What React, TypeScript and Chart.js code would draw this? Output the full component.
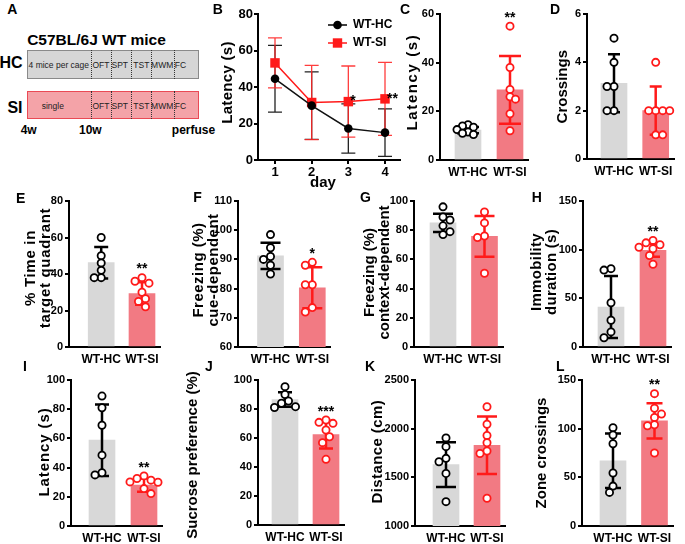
import React, { useEffect, useRef } from "react";
import { Chart, registerables } from "chart.js";

Chart.register(...registerables);

const FONT = 'Arial, "Liberation Sans", Helvetica, sans-serif';
const GRAY = "#d8d8d8";
const PINK = "#f27a83";
const RED = "#ff1a1a";
const BLACK = "#000000";

const groups = ["WT-HC", "WT-SI"];

// ---- Panel B: latency per day ----
const bDays = [1, 2, 3, 4];
const bSeries = ["WT-HC", "WT-SI"];
const bHCMean = [44.5, 29.8, 17.3, 15.0];
const bHCSD = [18.3, 18.5, 13.5, 13.0];
const bSIMean = [53.2, 31.5, 32.0, 33.5];
const bSISD = [13.7, 20.3, 19.5, 20.0];
const bSig = ["", "", "*", "**"];
const bYTicks = [0, 20, 40, 60, 80];

// ---- Panel C ----
const cYTicks = [0, 20, 40, 60];
const cMean = [12.3, 28.8];
const cSD = [1.3, 13.9];
const cHC = [14.5, 14, 13.5, 12.5, 11.5, 11, 10.5];
const cSI = [55, 38, 29, 26, 25, 19, 12];
const cSig = "**";

// ---- Panel D ----
const dYTicks = [0, 2, 4, 6];
const dMean = [3.13, 2.0];
const dSD = [1.2, 1.0];
const dHC = [5, 4, 3, 3, 2, 2];
const dSI = [4, 2, 2, 2, 2, 1, 1];
const dSig = "";

// ---- Panel E ----
const eYTicks = [0, 20, 40, 60, 80];
const eMean = [46.2, 29.3];
const eSD = [8.6, 6.2];
const eHC = [60, 50, 46, 42, 38, 38];
const eSI = [38, 36, 35, 30, 26.5, 25, 22];
const eSig = "**";

// ---- Panel F ----
const fYTicks = [60, 70, 80, 90, 100, 110];
const fMean = [91.2, 80.3];
const fSD = [4.5, 7.0];
const fHC = [98.5, 94, 91, 90, 88, 85];
const fSI = [89, 88, 81.3, 81.3, 73.5, 72];
const fSig = "*";

// ---- Panel G ----
const gYTicks = [0, 20, 40, 60, 80, 100];
const gMean = [85, 75.8];
const gSD = [6.2, 14];
const gHC = [96, 89, 87, 83, 79, 77];
const gSI = [92.5, 85, 76, 75, 50.5];
const gSig = "";

// ---- Panel H ----
const hYTicks = [0, 50, 100, 150];
const hMean = [41.1, 99.4];
const hSD = [31.8, 6.6];
const hHC = [80.5, 79, 45.5, 27.5, 15.5, 9.5];
const hSI = [109.5, 107, 105, 102.5, 101, 94, 85];
const hSig = "**";

// ---- Panel I ----
const iYTicks = [0, 20, 40, 60, 80, 100];
const iMean = [58.8, 28];
const iSD = [24.5, 4.6];
const iHC = [89, 81, 69, 48.5, 36.5, 35];
const iSI = [34.3, 32.5, 31.4, 30.2, 30, 25.6, 22.2];
const iSig = "**";

// ---- Panel J ----
const jYTicks = [0, 20, 40, 60, 80, 100];
const jMean = [86.5, 62.3];
const jSD = [5.0, 9.6];
const jHC = [95.4, 90, 85.5, 84, 81.6, 81];
const jSI = [72.4, 70.8, 70.1, 65.5, 60.9, 56.8, 45.3];
const jSig = "***";

// ---- Panel K ----
const kYTicks = [1000, 1500, 2000, 2500];
const kMean = [1630, 1830];
const kSD = [230, 296];
const kHC = [1905, 1815, 1695, 1660, 1540, 1250];
const kSI = [2225, 2045, 1930, 1855, 1770, 1745, 1285];
const kSig = "";

// ---- Panel L ----
const lYTicks = [0, 50, 100, 150];
const lMean = [67, 108];
const lSD = [28, 18];
const lHC = [101, 93.5, 84.5, 54.5, 41, 34.5];
const lSI = [136, 121, 115, 111.5, 104, 103, 75];
const lSig = "**";

type BarSpec = {
  key: string;
  axisX: number; hcX: number; siX: number; topY: number; botY: number;
  yTicks: number[]; mean: number[]; sd: number[]; hc: number[]; si: number[]; sig: string;
  title: string[]; titleX: number; titleY: number; ls: number; cap: number; gapPx?: number;
};

const specs: BarSpec[] = [
  { key: "C", axisX: 440, hcX: 468, siX: 510, topY: 14, botY: 160, yTicks: cYTicks, mean: cMean, sd: cSD, hc: cHC, si: cSI, sig: cSig, title: ["Latency (s)"], titleX: 413, titleY: 82, ls: 1.6, cap: 11, gapPx: 5.5 },
  { key: "D", axisX: 587, hcX: 614, siX: 655.7, topY: 14, botY: 159, yTicks: dYTicks, mean: dMean, sd: dSD, hc: dHC, si: dSI, sig: dSig, title: ["Crossings"], titleX: 563, titleY: 86.7, ls: 0, cap: 6 },
  { key: "E", axisX: 69, hcX: 101.2, siX: 142, topY: 201, botY: 347, yTicks: eYTicks, mean: eMean, sd: eSD, hc: eHC, si: eSI, sig: eSig, title: ["% Time in", "target quadrant"], titleX: 38.8, titleY: 268, ls: 0.7, cap: 7 },
  { key: "F", axisX: 238, hcX: 270.5, siX: 312.3, topY: 201, botY: 347, yTicks: fYTicks, mean: fMean, sd: fSD, hc: fHC, si: fSI, sig: fSig, title: ["Freezing (%)", "cue-dependent"], titleX: 206.7, titleY: 270, ls: 0.5, cap: 10 },
  { key: "G", axisX: 414, hcX: 443, siX: 484.5, topY: 201, botY: 347, yTicks: gYTicks, mean: gMean, sd: gSD, hc: gHC, si: gSI, sig: gSig, title: ["Freezing (%)", "context-dependent"], titleX: 377.5, titleY: 272.5, ls: 0, cap: 10 },
  { key: "H", axisX: 583, hcX: 611, siX: 653, topY: 201, botY: 347, yTicks: hYTicks, mean: hMean, sd: hSD, hc: hHC, si: hSI, sig: hSig, title: ["Immobility", "duration (s)"], titleX: 544.2, titleY: 272, ls: 0.3, cap: 7 },
  { key: "I", axisX: 71, hcX: 102, siX: 144, topY: 380, botY: 526, yTicks: iYTicks, mean: iMean, sd: iSD, hc: iHC, si: iSI, sig: iSig, title: ["Latency (s)"], titleX: 45, titleY: 452, ls: 0.9, cap: 7 },
  { key: "J", axisX: 258, hcX: 285, siX: 326, topY: 380, botY: 525, yTicks: jYTicks, mean: jMean, sd: jSD, hc: jHC, si: jSI, sig: jSig, title: ["Sucrose preference (%)"], titleX: 193.3, titleY: 455, ls: 0, cap: 7 },
  { key: "K", axisX: 415, hcX: 446, siX: 487, topY: 380, botY: 526, yTicks: kYTicks, mean: kMean, sd: kSD, hc: kHC, si: kSI, sig: kSig, title: ["Distance (cm)"], titleX: 378.3, titleY: 451.7, ls: 0.4, cap: 10 },
  { key: "L", axisX: 582, hcX: 613, siX: 654.5, topY: 380, botY: 526, yTicks: lYTicks, mean: lMean, sd: lSD, hc: lHC, si: lSI, sig: lSig, title: ["Zone crossings"], titleX: 541.7, titleY: 453, ls: 0, cap: 8 },
];

const PAD_L = 80, PAD_T = 16, PAD_R = 10, XH = 26;

// deterministic beeswarm: horizontal offsets (px) that keep markers from overlapping
function swarm(vals: number[], pxPerVal: number, d = 7): number[] {
  const idx = vals.map((_, i) => i).sort((a, b) => vals[b] - vals[a]);
  const placed: [number, number][] = [];
  const out = new Array(vals.length).fill(0);
  const step = d / 2;
  for (const i of idx) {
    const py = vals[i] * pxPerVal;
    let chosen = 0;
    let found = false;
    for (let k = 0; k < 40 && !found; k++) {
      const sgn = placed.length % 2 === 0 ? 1 : -1;
      const cands = k === 0 ? [0] : [sgn * k * step, -sgn * k * step];
      for (const c of cands) {
        if (placed.every(([px, qy]) => (px - c) ** 2 + (qy - py) ** 2 >= d * d)) {
          chosen = c; found = true; break;
        }
      }
    }
    placed.push([chosen, py]);
    out[i] = chosen;
  }
  return out;
}

function drawTitle(ctx: CanvasRenderingContext2D, lines: string[], cx: number, cy: number, size: number, ls: number, gap = 15) {
  ctx.save();
  ctx.translate(cx, cy);
  ctx.rotate(-Math.PI / 2);
  ctx.font = `bold ${size}px ${FONT}`;
  ctx.fillStyle = "#000";
  ctx.textAlign = "center";
  ctx.textBaseline = "middle";
  (ctx as any).letterSpacing = `${ls}px`;
  lines.forEach((t, i) => ctx.fillText(t, 0, (i - (lines.length - 1) / 2) * gap));
  ctx.restore();
}

function drawStar(ctx: CanvasRenderingContext2D, text: string, x: number, centerY: number, align: CanvasTextAlign) {
  ctx.save();
  ctx.font = `bold 14px ${FONT}`;
  ctx.fillStyle = "#000";
  ctx.textAlign = align;
  ctx.textBaseline = "alphabetic";
  ctx.fillText(text, x, centerY + 7.8);
  ctx.restore();
}

function drawErr(ctx: CanvasRenderingContext2D, x: number, y1: number, y2: number, cap: number, color: string, w: number) {
  ctx.save();
  ctx.strokeStyle = color;
  ctx.lineWidth = w;
  ctx.beginPath();
  ctx.moveTo(x, y1); ctx.lineTo(x, y2);
  ctx.moveTo(x - cap, y1); ctx.lineTo(x + cap, y1);
  ctx.moveTo(x - cap, y2); ctx.lineTo(x + cap, y2);
  ctx.stroke();
  ctx.restore();
}

function useChart(ref: React.RefObject<HTMLCanvasElement>, make: () => any) {
  useEffect(() => {
    const chart = new Chart(ref.current as HTMLCanvasElement, make());
    return () => chart.destroy();
  }, []);
}

function BarPanel({ s }: { s: BarSpec }) {
  const ref = useRef<HTMLCanvasElement>(null);
  const right = Math.round(s.siX + 18);
  const left = s.axisX - PAD_L;
  const top = s.topY - PAD_T;
  const W = PAD_L + (right - s.axisX) + PAD_R;
  const H = PAD_T + (s.botY - s.topY) + XH;
  const yMin = s.yTicks[0];
  const yMax = s.yTicks[s.yTicks.length - 1];
  const unit = s.siX - s.hcX;
  const xMin = -(s.hcX - s.axisX) / unit;
  const xMax = (right - s.hcX) / unit;
  const pxPerVal = (s.botY - s.topY) / (yMax - yMin);

  useChart(ref, () => {
    const hcOff = swarm(s.hc, pxPerVal, s.gapPx);
    const siOff = swarm(s.si, pxPerVal, s.gapPx);
    const hcPts = s.hc.map((v, i) => ({ x: 0 + hcOff[i] / unit, y: v }));
    const siPts = s.si.map((v, i) => ({ x: 1 + siOff[i] / unit, y: v }));
    const tickFont = { family: FONT, size: 11, weight: "bold" as const };
    const deco = {
      id: "deco" + s.key,
      afterDatasetDraw(chart: any, args: any) {
        if (args.index !== 0) return;
        const ctx = chart.ctx;
        const xs = chart.scales.x, ys = chart.scales.y;
        [0, 1].forEach((g) => {
          const cx = xs.getPixelForValue(g);
          drawErr(ctx, cx, ys.getPixelForValue(s.mean[g] + s.sd[g]), ys.getPixelForValue(s.mean[g] - s.sd[g]), s.cap, g ? RED : BLACK, 2.5);
        });
      },
      afterDraw(chart: any) {
        const ctx = chart.ctx;
        const xs = chart.scales.x, ys = chart.scales.y;
        if (s.sig) {
          const top = Math.max(...s.si, s.mean[1] + s.sd[1]);
          drawStar(ctx, s.sig, xs.getPixelForValue(1), ys.getPixelForValue(top) - 12, "center");
        }
        drawTitle(ctx, s.title, s.titleX - left, s.titleY - top, 15, s.ls);
      },
    };
    return {
      type: "scatter",
      data: {
        datasets: [
          { type: "bar", data: [{ x: 0, y: s.mean[0] }, { x: 1, y: s.mean[1] }], backgroundColor: [GRAY, PINK], borderWidth: 0, barThickness: 26, order: 2 },
          { type: "scatter", data: hcPts, pointRadius: 3.6, pointBorderWidth: 1.8, pointBorderColor: BLACK, pointBackgroundColor: "#fff", order: 1, clip: false },
          { type: "scatter", data: siPts, pointRadius: 3.6, pointBorderWidth: 1.8, pointBorderColor: RED, pointBackgroundColor: "#fff", order: 1, clip: false },
        ],
      },
      options: {
        responsive: false,
        maintainAspectRatio: false,
        animation: false,
        devicePixelRatio: 1,
        events: [],
        layout: { padding: { left: 0, top: PAD_T, right: PAD_R, bottom: 0 } },
        plugins: { legend: { display: false }, tooltip: { enabled: false } },
        scales: {
          x: {
            type: "linear", min: xMin, max: xMax, offset: false, z: 1,
            afterBuildTicks: (sc: any) => { sc.ticks = [{ value: 0 }, { value: 1 }]; },
            afterFit: (sc: any) => { sc.height = XH; },
            grid: { display: false, drawTicks: false },
            border: { display: true, color: "#000", width: 2 },
            ticks: { padding: 5, font: { family: FONT, size: 12, weight: "bold" }, color: "#000", maxRotation: 0, autoSkip: false, callback: (v: any) => groups[Math.round(Number(v))] },
          },
          y: {
            type: "linear", min: yMin, max: yMax, z: 1,
            afterBuildTicks: (sc: any) => { sc.ticks = s.yTicks.map((v) => ({ value: v })); },
            afterFit: (sc: any) => { sc.width = PAD_L; },
            grid: { display: true, drawOnChartArea: false, drawTicks: true, tickLength: 4, color: "#000", lineWidth: 2 },
            border: { display: true, color: "#000", width: 2 },
            ticks: { padding: 2, font: tickFont, color: "#000", autoSkip: false, callback: (v: any) => String(v) },
          },
        },
      },
      plugins: [deco],
    };
  });

  return <canvas ref={ref} width={W} height={H} style={{ position: "absolute", left, top, width: W, height: H }} />;
}

function PanelB() {
  const ref = useRef<HTMLCanvasElement>(null);
  const L = 196, T = 0, W = 216, H = 196;
  const axisX = 258, topY = 14, botY = 160, right = 400;
  const yW = axisX - L;
  const perDay = 36.67;
  const xMin = 1 - (275 - axisX) / perDay;
  const xMax = 4 + (right - 385) / perDay;
  useChart(ref, () => {
    const hc = bDays.map((d, i) => ({ x: d, y: bHCMean[i] }));
    const si = bDays.map((d, i) => ({ x: d, y: bSIMean[i] }));
    const tickFont = { family: FONT, size: 13, weight: "bold" as const };
    const deco = {
      id: "decoB",
      beforeDatasetsDraw(chart: any) {
        const ctx = chart.ctx;
        const xs = chart.scales.x, ys = chart.scales.y;
        bDays.forEach((d, i) => {
          const x = xs.getPixelForValue(d);
          drawErr(ctx, x, ys.getPixelForValue(bHCMean[i] + bHCSD[i]), ys.getPixelForValue(bHCMean[i] - bHCSD[i]), 7, "#222", 1.3);
          drawErr(ctx, x, ys.getPixelForValue(bSIMean[i] + bSISD[i]), ys.getPixelForValue(bSIMean[i] - bSISD[i]), 7, "rgba(255,40,40,0.9)", 1.3);
        });
      },
      afterDraw(chart: any) {
        const ctx = chart.ctx;
        const xs = chart.scales.x, ys = chart.scales.y;
        bDays.forEach((d, i) => {
          if (bSig[i]) drawStar(ctx, bSig[i], xs.getPixelForValue(d) + 2, ys.getPixelForValue(bSIMean[i]) - 4, "left");
        });
        drawTitle(ctx, ["Latency (s)"], 228 - L, 82.5 - T, 15, 0.3);
        ctx.save();
        ctx.font = `bold 15px ${FONT}`;
        ctx.fillStyle = "#000";
        ctx.textAlign = "center";
        ctx.textBaseline = "middle";
        ctx.fillText("day", 323 - L, 183 - T);
        ctx.restore();
        const rows = [
          { y: 25, color: "#000", shape: "circle" },
          { y: 43, color: RED, shape: "rect" },
        ];
        rows.forEach((r, k) => {
          const y = r.y - T;
          ctx.save();
          ctx.strokeStyle = r.color;
          ctx.fillStyle = r.color;
          ctx.lineWidth = 1.5;
          ctx.beginPath();
          ctx.moveTo(328 - L, y); ctx.lineTo(347 - L, y);
          ctx.stroke();
          ctx.beginPath();
          if (r.shape === "circle") ctx.arc(337.5 - L, y, 4.3, 0, Math.PI * 2);
          else ctx.rect(337.5 - L - 4.7, y - 4.7, 9.4, 9.4);
          ctx.fill();
          ctx.fillStyle = "#000";
          ctx.font = `bold 12px ${FONT}`;
          ctx.textAlign = "left";
          ctx.textBaseline = "middle";
          ctx.fillText(bSeries[k], 353 - L, y);
          ctx.restore();
        });
      },
    };
    return {
      type: "line",
      data: {
        datasets: [
          { data: hc, borderColor: "#111", borderWidth: 1.5, pointStyle: "circle", pointRadius: 4.3, pointBackgroundColor: "#000", pointBorderWidth: 0, clip: false },
          { data: si, borderColor: RED, borderWidth: 1.5, pointStyle: "rect", pointRadius: 6.7, pointBackgroundColor: RED, pointBorderWidth: 0, clip: false },
        ],
      },
      options: {
        responsive: false,
        maintainAspectRatio: false,
        animation: false,
        devicePixelRatio: 1,
        events: [],
        layout: { padding: { left: 0, top: topY - T, right: W - yW - (right - axisX), bottom: 0 } },
        plugins: { legend: { display: false }, tooltip: { enabled: false } },
        scales: {
          x: {
            type: "linear", min: xMin, max: xMax,
            afterBuildTicks: (sc: any) => { sc.ticks = bDays.map((v) => ({ value: v })); },
            afterFit: (sc: any) => { sc.height = H - botY; },
            grid: { display: true, drawOnChartArea: false, drawTicks: true, tickLength: 4, color: "#000", lineWidth: 2 },
            border: { display: true, color: "#000", width: 2 },
            ticks: { padding: 1, font: tickFont, color: "#000", maxRotation: 0, autoSkip: false, callback: (v: any) => String(v) },
          },
          y: {
            type: "linear", min: bYTicks[0], max: bYTicks[bYTicks.length - 1],
            afterBuildTicks: (sc: any) => { sc.ticks = bYTicks.map((v) => ({ value: v })); },
            afterFit: (sc: any) => { sc.width = yW; },
            grid: { display: true, drawOnChartArea: false, drawTicks: true, tickLength: 4, color: "#000", lineWidth: 2 },
            border: { display: true, color: "#000", width: 2 },
            ticks: { padding: 1, font: tickFont, color: "#000", autoSkip: false, callback: (v: any) => String(v) },
          },
        },
      },
      plugins: [deco],
    };
  });
  return <canvas ref={ref} width={W} height={H} style={{ position: "absolute", left: L, top: T, width: W, height: H }} />;
}

function Txt({ x, y, size, bold, children, color = "#000" }: { x: number; y: number; size: number; bold?: boolean; children: React.ReactNode; color?: string }) {
  return (
    <div style={{ position: "absolute", left: x, top: y, transform: "translate(-50%, -50%)", fontSize: size, fontWeight: bold ? "bold" : "normal", lineHeight: 1, whiteSpace: "nowrap", color, fontFamily: FONT }}>
      {children}
    </div>
  );
}

const stages = ["OFT", "SPT", "TST", "MWM", "FC"];
const stageCenters = [101, 119.8, 141.3, 162.2, 180.5];
const dividers = [91, 111, 130.7, 151, 174.3];

function PanelA() {
  const boxes = [
    { top: 50, h: 29, bg: "#d6d6d6", border: "#8a8a8a", first: "4 mice per cage", fx: 58.8 },
    { top: 90.7, h: 28.6, bg: "#f4a3a8", border: "#ea4a55", first: "single", fx: 52.8 },
  ];
  return (
    <>
      <Txt x={96.5} y={39.5} size={15.5} bold>C57BL/6J WT mice</Txt>
      <Txt x={11} y={62.8} size={16} bold>HC</Txt>
      <Txt x={15} y={107.8} size={16} bold>SI</Txt>
      {boxes.map((b, k) => (
        <React.Fragment key={k}>
          <div style={{ position: "absolute", left: 27, top: b.top, width: 172, height: b.h, background: b.bg, border: `1px solid ${b.border}`, boxSizing: "border-box" }} />
          {dividers.map((x) => (
            <div key={x} style={{ position: "absolute", left: x, top: b.top, width: 0, height: b.h, borderLeft: "1px dotted #333" }} />
          ))}
          <Txt x={b.fx} y={b.top + b.h / 2 + 0.5} size={8.5} color="#222">{b.first}</Txt>
          {stages.map((t, i) => (
            <Txt key={t} x={stageCenters[i]} y={b.top + b.h / 2 + 0.5} size={8.5} color="#222">{t}</Txt>
          ))}
        </React.Fragment>
      ))}
      <Txt x={28.7} y={129.5} size={12} bold>4w</Txt>
      <Txt x={90.3} y={129.5} size={12} bold>10w</Txt>
      <Txt x={193.5} y={129.5} size={12} bold>perfuse</Txt>
    </>
  );
}

const panelLetters = [
  { t: "A", x: 7.3, y: 4 }, { t: "B", x: 212.7, y: 4 }, { t: "C", x: 400, y: 4 }, { t: "D", x: 550, y: 4 },
  { t: "E", x: 16, y: 193 }, { t: "F", x: 193.3, y: 192.3 }, { t: "G", x: 360, y: 192.3 }, { t: "H", x: 531.7, y: 192.3 },
  { t: "I", x: 23, y: 360.5 }, { t: "J", x: 205, y: 360.5 }, { t: "K", x: 365, y: 360.5 }, { t: "L", x: 556, y: 360.5 },
];

export default function App() {
  return (
    <div style={{ position: "fixed", left: 0, top: 0, width: 685, height: 544, background: "#fff", overflow: "hidden", fontFamily: FONT }}>
      <PanelA />
      <PanelB />
      {specs.map((s) => <BarPanel key={s.key} s={s} />)}
      {panelLetters.map((p) => (
        <div key={p.t} style={{ position: "absolute", left: p.x, top: p.y - 2, fontSize: 14, fontWeight: "bold", lineHeight: "14px", fontFamily: FONT }}>{p.t}</div>
      ))}
    </div>
  );
}
